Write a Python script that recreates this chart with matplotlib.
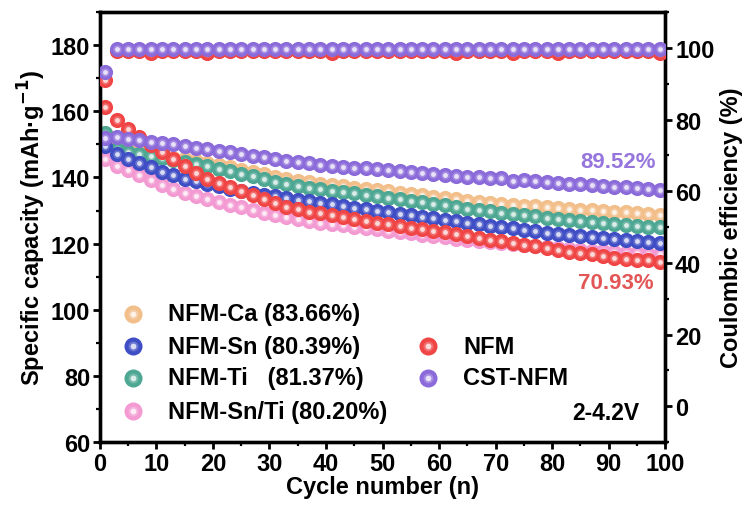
import matplotlib
matplotlib.use("Agg")
import matplotlib.pyplot as plt
from matplotlib.colors import to_rgb
from matplotlib.ticker import MultipleLocator

plt.rcParams['font.family'] = ['Liberation Sans', 'DejaVu Sans']
plt.rcParams['font.weight'] = 'bold'
plt.rcParams['mathtext.default'] = 'bf'

# ---------------- data ----------------
cycles = list(range(1, 100, 2))

cap_nfm_ca = [153.5, 150.5, 149.2, 148.0, 147.2, 146.6, 146.0, 145.5, 145.0, 144.4,
              143.8, 143.1, 142.4, 141.7, 141.0, 140.2, 139.5, 139.0, 138.6, 138.1,
              137.7, 137.3, 136.9, 136.5, 136.1, 135.8, 135.4, 135.0, 134.6, 134.2,
              133.8, 133.4, 133.0, 132.6, 132.3, 132.0, 131.7, 131.5, 131.3, 131.1,
              130.8, 130.6, 130.3, 130.1, 129.9, 129.7, 129.5, 129.3, 129.0, 128.6]
cap_nfm_sn = [149.6, 147.2, 145.6, 144.4, 143.2, 141.8, 140.6, 139.6, 138.8, 138.0,
              137.3, 136.6, 136.0, 135.4, 134.8, 134.3, 133.8, 133.3, 132.9, 132.4,
              131.9, 131.4, 130.9, 130.4, 129.9, 129.5, 129.0, 128.6, 128.1, 127.6,
              127.2, 126.7, 126.2, 125.8, 125.4, 125.0, 124.6, 124.2, 123.8, 123.3,
              123.0, 122.6, 122.3, 122.0, 121.7, 121.4, 121.1, 120.9, 120.6, 120.3]
cap_nfm_ti = [153.5, 148.6, 147.6, 147.0, 146.4, 145.8, 145.2, 144.6, 144.0, 143.4,
              142.6, 141.9, 141.2, 140.4, 139.6, 138.7, 137.9, 137.4, 136.9, 136.4,
              136.0, 135.6, 135.2, 134.8, 134.3, 133.9, 133.4, 133.0, 132.5, 132.0,
              131.6, 131.1, 130.6, 130.2, 129.8, 129.4, 129.0, 128.6, 128.2, 127.8,
              127.4, 127.0, 126.7, 126.4, 126.1, 125.8, 125.6, 125.4, 125.1, 124.9]
cap_nfm_snti = [145.6, 143.6, 142.2, 140.6, 139.2, 137.8, 136.4, 135.4, 134.4, 133.4,
                132.6, 131.8, 131.0, 130.2, 129.4, 128.6, 127.9, 127.3, 126.8, 126.3,
                125.9, 125.5, 125.1, 124.7, 124.3, 123.9, 123.5, 123.1, 122.7, 122.3,
                121.9, 121.5, 121.1, 120.7, 120.4, 120.1, 119.8, 119.5, 119.2, 118.9,
                118.6, 118.3, 118.1, 117.9, 117.7, 117.5, 117.3, 117.1, 116.9, 116.8]
cap_nfm = [161.2, 157.3, 154.6, 152.2, 149.8, 147.6, 145.6, 143.5, 141.4, 139.6,
           138.2, 137.0, 135.8, 134.6, 133.4, 132.3, 131.2, 130.4, 129.7, 129.2,
           128.7, 128.0, 127.4, 126.8, 126.3, 125.8, 125.3, 124.8, 124.3, 123.9,
           123.4, 122.9, 122.3, 121.8, 121.2, 120.8, 120.3, 119.7, 119.2, 118.6,
           118.2, 117.6, 117.2, 116.8, 116.3, 115.6, 115.4, 115.1, 114.9, 114.4]
cap_cst_nfm = [152.0, 152.3, 151.6, 151.2, 150.8, 150.4, 150.0, 149.5, 149.0, 148.5,
               148.1, 147.6, 147.2, 146.6, 146.2, 145.6, 145.0, 144.6, 144.3, 143.9,
               143.6, 143.3, 143.0, 142.8, 142.5, 142.3, 142.0, 141.7, 141.4, 141.1,
               140.8, 140.5, 140.2, 140.0, 139.9, 139.7, 138.8, 139.2, 139.0, 138.7,
               138.4, 138.1, 137.9, 137.7, 137.4, 137.2, 137.0, 136.8, 136.6, 136.2]

ce_nfm = [91.0, 99.1, 99.1, 99.1, 98.6, 99.1, 99.1, 99.1, 99.1, 98.6,
          99.1, 99.1, 99.1, 99.1, 99.1, 99.1, 99.1, 99.1, 99.1, 99.1,
          98.6, 99.1, 99.1, 99.1, 99.1, 99.1, 99.1, 99.1, 99.1, 99.1,
          99.1, 98.6, 99.1, 99.1, 99.1, 99.1, 98.6, 99.1, 99.1, 99.1,
          98.6, 99.1, 99.1, 99.1, 99.1, 99.1, 99.1, 99.1, 99.1, 98.6]
ce_cst_nfm = [93.3, 99.7, 99.7, 99.7, 99.7, 99.7, 99.7, 99.7, 99.7, 99.7,
              99.7, 99.7, 99.7, 99.7, 99.7, 99.7, 99.7, 99.7, 99.7, 99.7,
              99.7, 99.7, 99.7, 99.7, 99.7, 99.7, 99.7, 99.7, 99.7, 99.7,
              99.7, 99.7, 99.7, 99.7, 99.7, 99.7, 99.7, 99.7, 99.7, 99.7,
              99.7, 99.7, 99.7, 99.7, 99.7, 99.7, 99.7, 99.7, 99.7, 99.7]

series_names = ['NFM-Ca (83.66%)', 'NFM-Sn (80.39%)', 'NFM-Ti   (81.37%)',
                'NFM-Sn/Ti (80.20%)', 'NFM', 'CST-NFM']
series_colors = ['#F2BE8A', '#3F4EC4', '#4DA792', '#F39AD2', '#F04545', '#8B6AD9']


def lighten(color, amount):
    r, g, b = to_rgb(color)
    return (r + (1 - r) * amount, g + (1 - g) * amount, b + (1 - b) * amount)


def spheres(ax, x, y, color, size, z, **kw):
    ax.plot(x, y, 'o', ms=size, mfc=color, mec=color, mew=0, ls='none', zorder=z, **kw)
    ax.plot(x, y, 'o', ms=size * 0.55, mfc=lighten(color, 0.22), mew=0, ls='none',
            zorder=z + 0.1, **kw)
    ax.plot(x, y, 'o', ms=size * 0.32, mfc=lighten(color, 0.8), mew=0, ls='none',
            zorder=z + 0.2, **kw)


fig = plt.figure(figsize=(7.45, 5.06), dpi=100)
ax = fig.add_axes([0.134, 0.1245, 0.759, 0.8495])
ax2 = ax.twinx()

ms = 10.9
capacity = [cap_nfm_ca, cap_nfm_sn, cap_nfm_ti, cap_nfm_snti, cap_nfm, cap_cst_nfm]
layer = [1, 4, 2, 3, 5, 6]
for vals, col, z in zip(capacity, series_colors, layer):
    spheres(ax, cycles, vals, col, ms, z)

spheres(ax2, cycles, ce_nfm, series_colors[4], ms, 3)
spheres(ax2, cycles, ce_cst_nfm, series_colors[5], ms, 4)

ax.set_xlim(0, 100)
ax.set_ylim(60, 190)
ax2.set_ylim(-10, 110)

ax.xaxis.set_major_locator(MultipleLocator(10))
ax.xaxis.set_minor_locator(MultipleLocator(5))
ax.yaxis.set_major_locator(MultipleLocator(20))
ax.yaxis.set_minor_locator(MultipleLocator(10))
ax2.yaxis.set_major_locator(MultipleLocator(20))
ax2.yaxis.set_minor_locator(MultipleLocator(10))
ax.set_yticks([60, 80, 100, 120, 140, 160, 180])
ax2.set_yticks([0, 20, 40, 60, 80, 100])

for a in (ax, ax2):
    for s in a.spines.values():
        s.set_linewidth(2.4)
    a.tick_params(which='major', direction='out', length=5, width=2, labelsize=17,
                  pad=2)
    a.tick_params(which='minor', direction='out', length=3, width=1.6)

ax.set_xlabel('Cycle number (n)', fontsize=17, fontweight='bold', labelpad=0)
ax.set_ylabel('Specific capacity (mAh·g$^{-1}$)', fontsize=17,
              fontweight='bold', labelpad=2)
ax2.set_ylabel('Coulombic efficiency (%)', fontsize=17, fontweight='bold', labelpad=4)

# annotations
ax.text(91.7, 144.8, '89.52%', color='#9676DD', fontsize=16, fontweight='bold',
        ha='center', va='center', zorder=10)
ax.text(91.2, 108.2, '70.93%', color='#E25656', fontsize=16, fontweight='bold',
        ha='center', va='center', zorder=10)
ax.text(89.4, 68.8, '2-4.2V', color='black', fontsize=16.5, fontweight='bold',
        ha='center', va='center', zorder=10)

# legend drawn as markers + labels in axes coordinates
leg_rows = [0.298, 0.223, 0.149, 0.072]
for row, idx in zip(leg_rows, [0, 1, 2, 3]):
    spheres(ax, [0.058], [row], series_colors[idx], 13, 20, transform=ax.transAxes,
            clip_on=False)
    ax.text(0.12, row, series_names[idx], transform=ax.transAxes, fontsize=17,
            fontweight='bold', va='center', ha='left', zorder=20)
for row, idx in zip(leg_rows[1:3], [4, 5]):
    spheres(ax, [0.58], [row], series_colors[idx], 13, 20, transform=ax.transAxes,
            clip_on=False)
    ax.text(0.643, row, series_names[idx], transform=ax.transAxes, fontsize=17,
            fontweight='bold', va='center', ha='left', zorder=20)

fig.savefig('out.png', dpi=100)
